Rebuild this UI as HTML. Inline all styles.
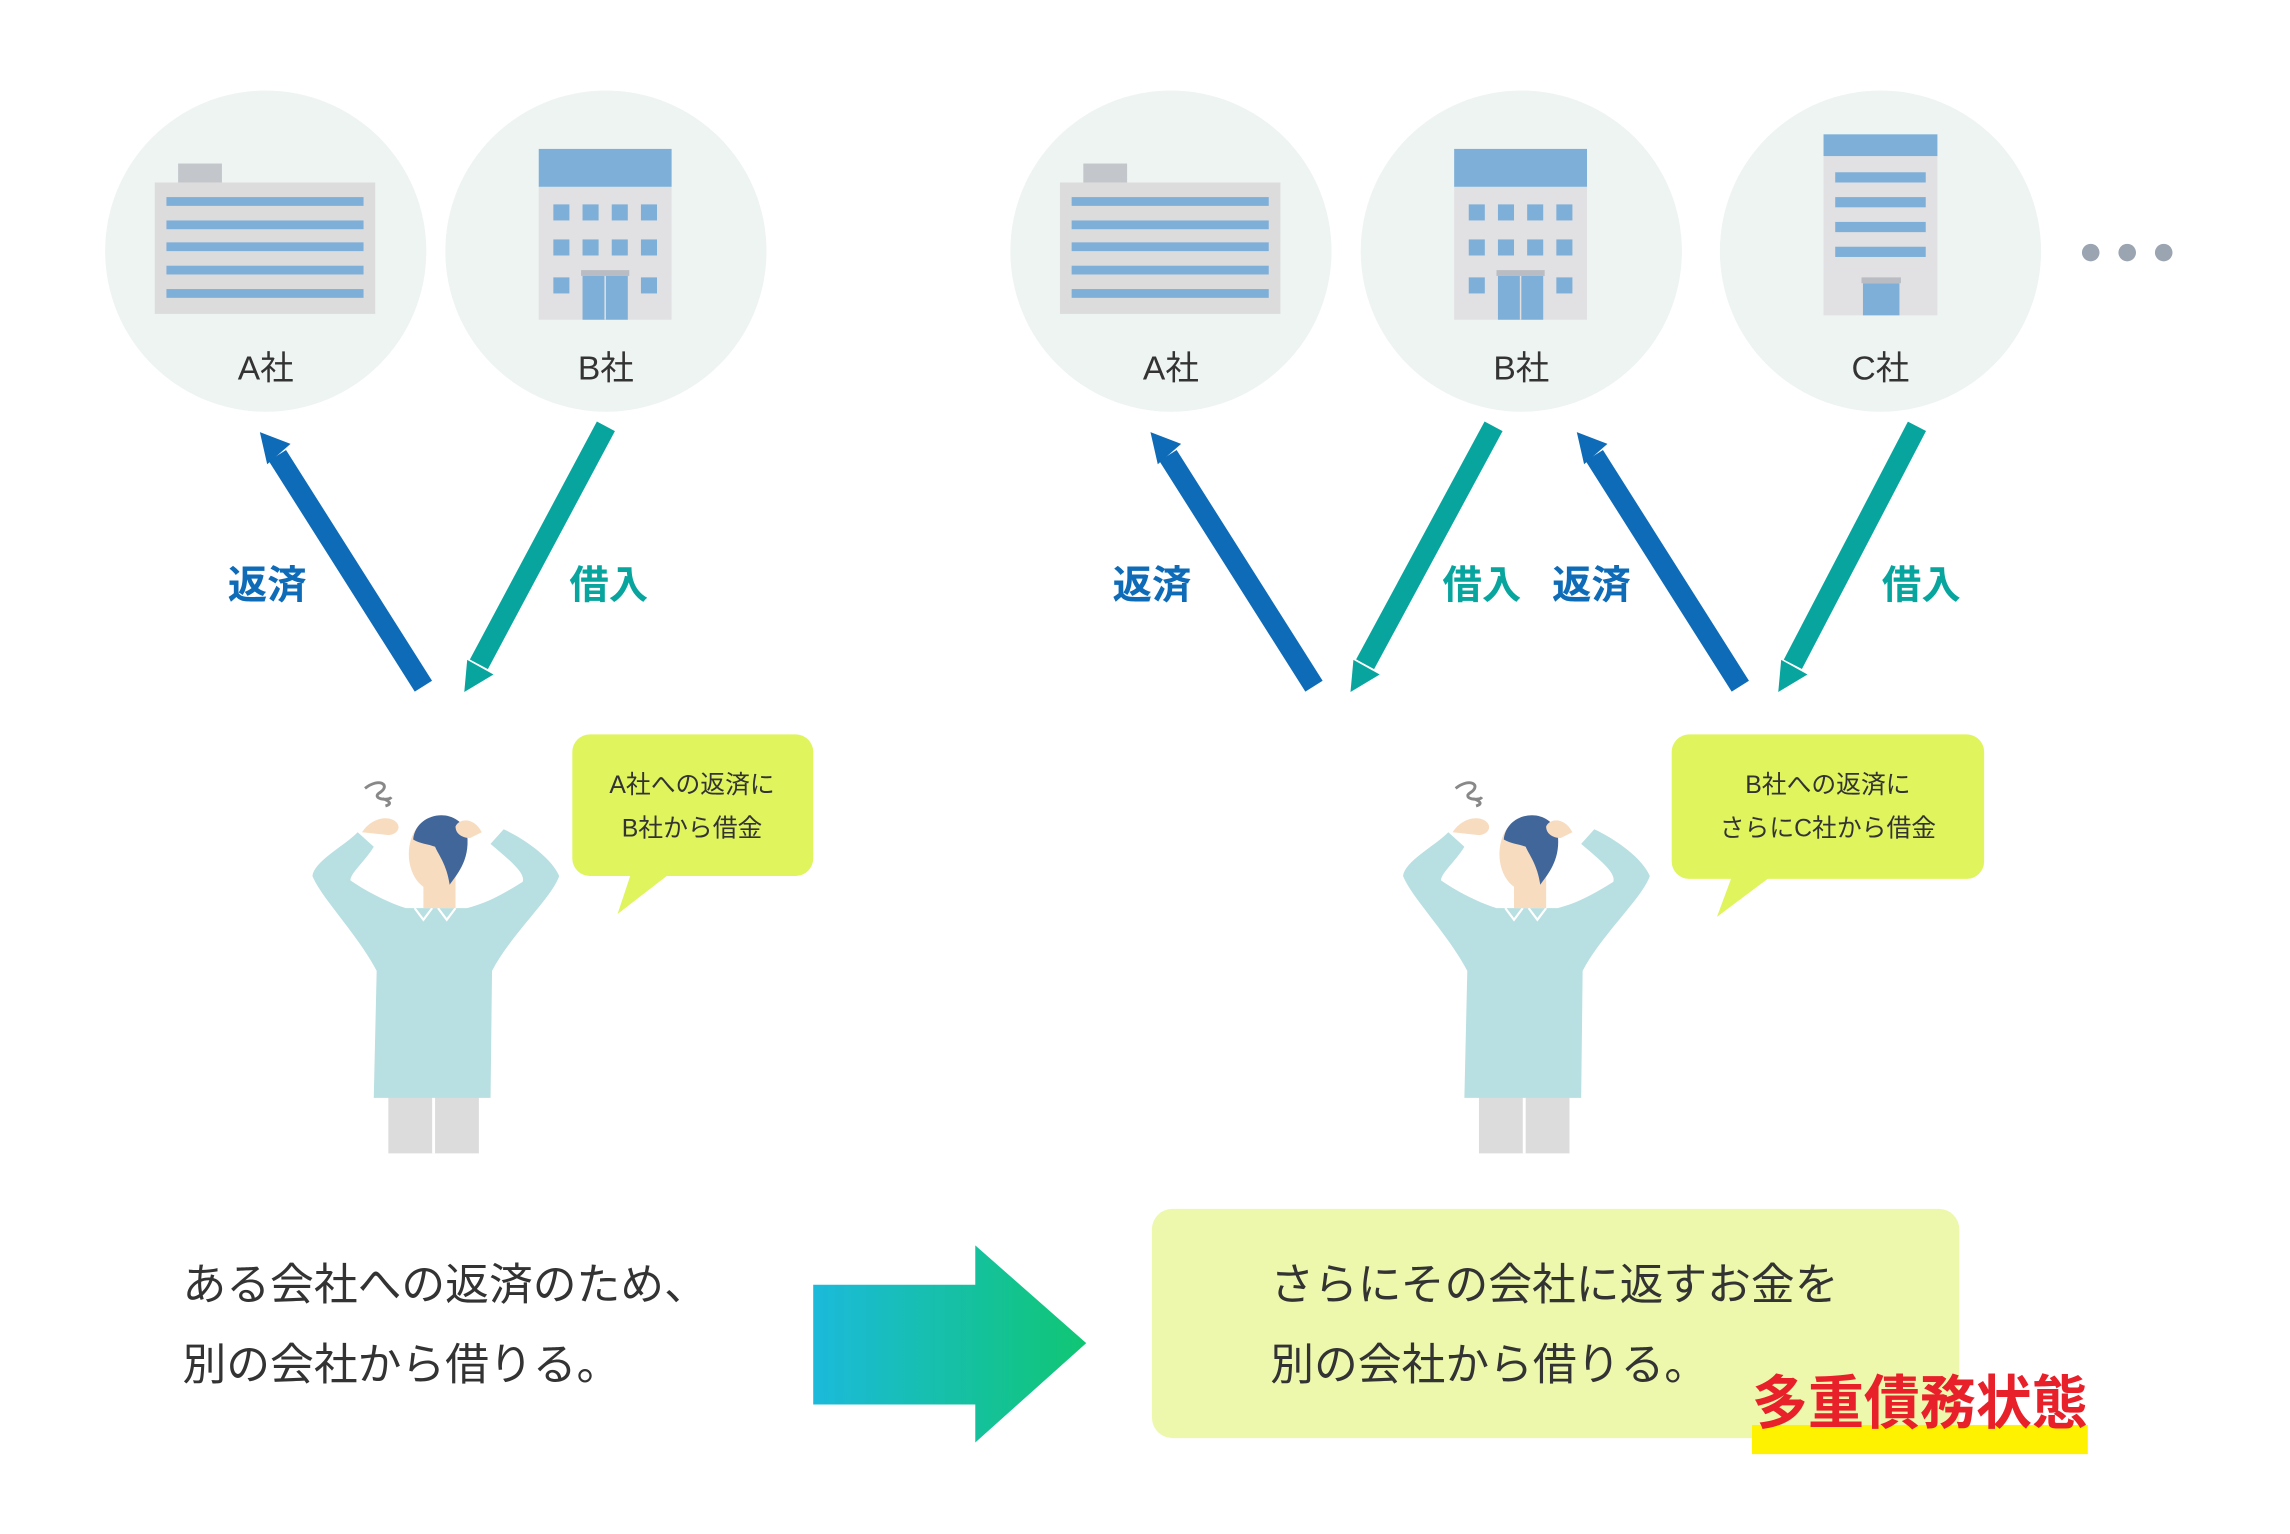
<!DOCTYPE html>
<html><head><meta charset="utf-8"><style>
html,body{margin:0;padding:0;background:#fff;}
svg{display:block;}
text{font-family:"Liberation Sans","Noto Sans CJK JP",sans-serif;}
</style></head><body>
<svg width="2290" height="1534" viewBox="0 0 1568.5 1050.7" preserveAspectRatio="none" xmlns="http://www.w3.org/2000/svg">
<defs>
<linearGradient id="g" x1="0" x2="1" y1="0" y2="0"><stop offset="0" stop-color="#1bbadb"/><stop offset="1" stop-color="#10c673"/></linearGradient>
<g id="bldA">
 <rect x="-60" y="-60" width="30" height="13" fill="#c3c7cb"/>
 <rect x="-76" y="-47" width="151" height="90" fill="#dcdcdc"/>
 <g fill="#7eafd8"><rect x="-68" y="-37" width="135" height="6"/><rect x="-68" y="-21" width="135" height="6"/><rect x="-68" y="-6" width="135" height="6"/><rect x="-68" y="10" width="135" height="6"/><rect x="-68" y="26" width="135" height="6"/></g>
</g>
<g id="bldB">
 <rect x="-46" y="-70" width="91" height="26" fill="#7eafd8"/>
 <rect x="-46" y="-44" width="91" height="91" fill="#e1e1e3"/>
 <g fill="#7eafd8"><rect x="-36" y="-32" width="11" height="11"/><rect x="-16" y="-32" width="11" height="11"/><rect x="4" y="-32" width="11" height="11"/><rect x="24" y="-32" width="11" height="11"/>
 <rect x="-36" y="-8" width="11" height="11"/><rect x="-16" y="-8" width="11" height="11"/><rect x="4" y="-8" width="11" height="11"/><rect x="24" y="-8" width="11" height="11"/>
 <rect x="-36" y="18" width="11" height="11"/><rect x="24" y="18" width="11" height="11"/><rect x="-16" y="17" width="31" height="30"/></g>
 <rect x="-17" y="13" width="33" height="4" fill="#b9bcc2"/><rect x="-1" y="17" width="1" height="30" fill="#e1e1e3"/>
</g>
<g id="person">
 <path d="M250,540 c10,-8 18,-2 10,3 c-6,4 6,6 8,3 M262,547 c6,2 6,4 2,5" stroke="#888" stroke-width="2" fill="none"/>
 <rect x="266" y="748" width="62" height="42" fill="#dcdcdc"/>
 <rect x="296" y="750" width="2" height="40" fill="#fff"/>
 <path d="M245,570 C235,580 215,590 214,600 C220,615 245,640 258,665 L256,752 L336,752 L337,665 C350,640 378,615 383,600 C378,588 360,575 345,568 L336,578 C350,590 360,598 358,604 C345,612 335,618 320,622 L278,622 C265,618 250,610 240,603 C240,598 250,590 256,580 Z" fill="#b8dfe1"/>
 <path d="M284,622 l6,8 l6,-8 M300,622 l6,8 l6,-8" stroke="#fff" stroke-width="1.5" fill="none"/>
 <path d="M290,600 l0,22 l22,0 l0,-22z" fill="#f7dcc0"/>
 <ellipse cx="298" cy="585" rx="18" ry="25" fill="#f7dcc0"/>
 <path d="M283,575 C285,555 315,552 320,572 C322,590 312,600 308,606 C306,592 300,585 298,580 C293,578 288,578 283,575Z" fill="#41669a"/>
 <path d="M248,570 c5,-8 15,-12 22,-8 c6,4 2,10 -4,10z M330,570 c-5,-10 -15,-10 -18,-4 c0,6 6,8 10,8z" fill="#f7dcc0"/>
</g>
</defs>

<g fill="#eef4f2">
<circle cx="182" cy="172" r="110"/><circle cx="415" cy="172" r="110"/>
<circle cx="802" cy="172" r="110"/><circle cx="1042" cy="172" r="110"/><circle cx="1288" cy="172" r="110"/>
</g>
<use href="#bldA" x="182" y="172"/>
<use href="#bldB" x="415" y="172"/>
<use href="#bldA" x="802" y="172"/>
<use href="#bldB" x="1042" y="172"/>
<rect x="1249" y="92" width="78" height="15" fill="#7eafd8"/>
<rect x="1249" y="107" width="78" height="109" fill="#e1e1e3"/>
<g fill="#7eafd8"><rect x="1257" y="118" width="62" height="7"/><rect x="1257" y="135" width="62" height="7"/><rect x="1257" y="152" width="62" height="7"/><rect x="1257" y="169" width="62" height="7"/><rect x="1276" y="194" width="25" height="22"/></g>
<rect x="1275" y="190" width="27" height="4" fill="#b9bcc2"/>

<g font-size="23" fill="#333" text-anchor="middle">
<text x="182" y="260">A社</text><text x="415" y="260">B社</text>
<text x="802" y="260">A社</text><text x="1042" y="260">B社</text><text x="1288" y="260">C社</text>
</g>
<g fill="#9aa5b1"><circle cx="1432" cy="173" r="6"/><circle cx="1457" cy="173" r="6"/><circle cx="1482" cy="173" r="6"/></g>

<g stroke-width="14" fill="none">
<line x1="290" y1="470" x2="190" y2="312" stroke="#0e6bb8"/>
<line x1="415" y1="292" x2="328" y2="455" stroke="#08a59f"/>
<line x1="900" y1="470" x2="800" y2="312" stroke="#0e6bb8"/>
<line x1="1023" y1="292" x2="935" y2="455" stroke="#08a59f"/>
<line x1="1192" y1="470" x2="1092" y2="312" stroke="#0e6bb8"/>
<line x1="1313" y1="292" x2="1228" y2="455" stroke="#08a59f"/>
</g>
<g fill="#0e6bb8">
<polygon points="178,296 199,304 183,318"/>
<polygon points="788,296 809,304 793,318"/>
<polygon points="1080,296 1101,304 1085,318"/>
</g>
<g fill="#08a59f">
<polygon points="318,474 320,452 338,462"/>
<polygon points="925,474 927,452 945,462"/>
<polygon points="1218,474 1220,452 1238,462"/>
</g>
<g font-size="27" font-weight="bold" text-anchor="middle">
<text x="183" y="410" fill="#0e6bb8">返済</text>
<text x="417" y="410" fill="#08a59f">借入</text>
<text x="789" y="410" fill="#0e6bb8">返済</text>
<text x="1015" y="410" fill="#08a59f">借入</text>
<text x="1090" y="410" fill="#0e6bb8">返済</text>
<text x="1316" y="410" fill="#08a59f">借入</text>
</g>

<rect x="392" y="503" width="165" height="97" rx="12" fill="#e0f45e"/>
<polygon points="432,599 458,599 423,626" fill="#e0f45e"/>
<rect x="1145" y="503" width="214" height="99" rx="12" fill="#e0f45e"/>
<polygon points="1186,601 1212,601 1176,628" fill="#e0f45e"/>
<g font-size="17" fill="#333" text-anchor="middle">
<text x="474" y="543">A社への返済に</text><text x="474" y="573">B社から借金</text>
<text x="1252" y="543">B社への返済に</text><text x="1252" y="573">さらにC社から借金</text>
</g>

<use href="#person"/>
<use href="#person" x="747"/>

<g font-size="30" fill="#333">
<text x="125" y="890">ある会社への返済のため、</text>
<text x="125" y="945">別の会社から借りる。</text>
</g>
<polygon points="557,880 668,880 668,853 744,920 668,988 668,962 557,962" fill="url(#g)"/>
<rect x="789" y="828" width="553" height="157" rx="14" fill="#eef8ac"/>
<g font-size="30" fill="#333">
<text x="870" y="890">さらにその会社に返すお金を</text>
<text x="870" y="945">別の会社から借りる。</text>
</g>
<rect x="1200" y="976" width="230" height="20" fill="#fff200"/>
<text x="1200" y="975" font-size="40" font-weight="bold" fill="#e8202a" textLength="230" lengthAdjust="spacingAndGlyphs">多重債務状態</text>
</svg>
</body></html>
